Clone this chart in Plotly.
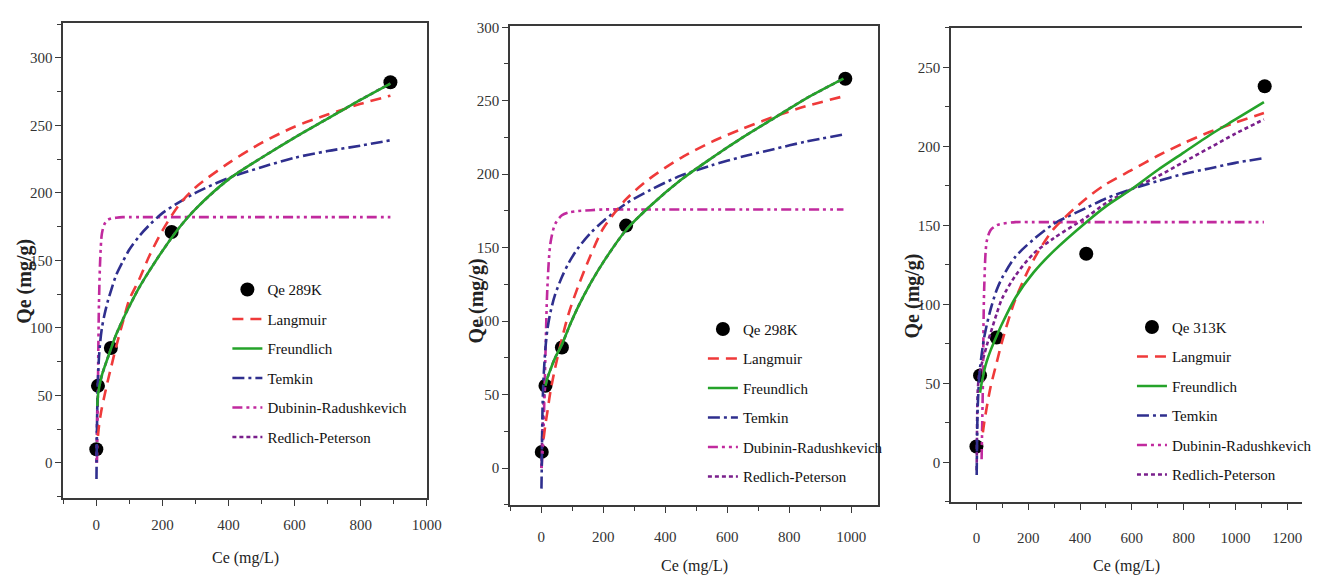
import plotly.graph_objects as go

# ---------------- data ----------------
# Panel 1 : 289 K
pts1_c = [0, 5, 44, 228, 890]
pts1_q = [10, 57, 85, 171, 282]
c1 = [0.5, 1, 2, 3, 5, 8, 12, 17, 25, 35, 45, 60, 80, 100, 130, 160, 200, 250, 300, 400, 500, 600, 700, 800, 890]
lang1 = [None, None, None, None, 20, 27, 34, 41, 50, 61, 71, 86, 104, 121, 136, 153, 172, 191, 204, 222, 237, 249, 258, 266, 272]
freu1 = [None, None, None, 42, 50, 55, 60, 65, 71, 78, 85, 95, 106, 116, 130, 142, 157, 174, 188, 210, 226, 241, 255, 269, 281]
temk1 = [-12, 2, 25, 42, 62, 78, 90, 100, 110, 120, 128, 139, 149, 158, 168, 176, 185, 193, 200, 211, 219, 226, 231, 235, 239]
dr1 = [None, None, 0, 15, 60, 118, 152, 170, 177, 180, 181, 181.6, 182, 182, 182, 182, 182, 182, 182, 182, 182, 182, 182, 182, 182]
rp1 = [0, 12, 28, 40, 50, 55, 60, 65, 71, 78, 85, 95, 106, 116, 130, 142, 157, 174, 188, 210, 226, 241, 255, 269, 281]

# Panel 2 : 298 K
pts2_c = [2, 14, 67, 274, 981]
pts2_q = [11, 56, 82, 165, 265]
c2 = [1, 2, 3, 5, 8, 14, 20, 30, 45, 67, 90, 120, 160, 200, 274, 350, 450, 550, 650, 750, 850, 975]
lang2 = [None, None, None, None, 20, 30, 38, 52, 68, 88, 106, 124, 145, 163, 183, 197, 211, 222, 231, 239, 246, 253]
freu2 = [None, None, None, None, None, 56, 61, 67, 75, 84, 96, 110, 126, 140, 162, 178, 196, 211, 225, 238, 251, 265]
temk2 = [-14, 0, 20, 45, 62, 82, 94, 106, 118, 130, 140, 150, 160, 168, 180, 189, 199, 206, 212, 217, 222, 227]
dr2 = [0, 2, 5, 12, 28, 78, 122, 153, 166, 172, 174, 175, 175.5, 176, 176, 176, 176, 176, 176, 176, 176, 176]
rp2 = [0, 10, 18, 30, 44, 56, 61, 67, 75, 84, 96, 110, 126, 140, 162, 178, 196, 211, 225, 238, 251, 265]

# Panel 3 : 313 K
pts3_c = [0, 14, 78, 424, 1113]
pts3_q = [10, 55, 79, 132, 238]
c3 = [1, 3, 5, 10, 14, 20, 25, 30, 40, 55, 78, 100, 150, 220, 300, 424, 500, 600, 700, 800, 900, 1000, 1110]
lang3 = [None, None, None, None, None, None, 19, 25, 35, 48, 63, 77, 103, 128, 148, 167, 176, 185, 194, 202, 209, 215, 221]
freu3 = [None, None, None, None, 44, 50, 54, 58, 64, 71, 80, 88, 104, 120, 134, 152, 162, 173, 185, 196, 207, 217, 228]
temk3 = [-8, 20, 35, 52, 60, 68, 74, 79, 87, 97, 109, 117, 130, 141, 151, 161, 167, 173, 178, 182.5, 186, 189.5, 192.5]
dr3 = [None, None, None, None, None, 2, 50, 110, 140, 147, 150, 151, 152, 152, 152, 152, 152, 152, 152, 152, 152, 152, 152]
rp3 = [-5, 30, 45, 55, 58, 62, 65, 68, 74, 82, 94, 104, 118, 132, 142, 155, 164, 173, 181, 190, 199, 208, 217]

series_names = ["Langmuir", "Freundlich", "Temkin", "Dubinin-Radushkevich", "Redlich-Peterson"]
point_names = ["Qe 289K", "Qe 298K", "Qe 313K"]
x_title = "Ce (mg/L)"
y_title = "Qe (mg/g)"

# ---------------- styling ----------------
W, H = 1317, 580
SERIF = "Liberation Serif, Times New Roman, serif"
styles = {
    "Langmuir": dict(color="#ef3a3a", dash="11px,7px", width=2.6),
    "Freundlich": dict(color="#25a32a", dash="solid", width=2.6),
    "Temkin": dict(color="#2f2f8e", dash="12px,4px,3px,4px", width=2.6),
    "Dubinin-Radushkevich": dict(color="#c12a9e", dash="10px,4px,3px,4px,3px,4px", width=2.6),
    "Redlich-Peterson": dict(color="#7a1f8c", dash="4px,3px", width=2.6),
}
rank = {"Langmuir": 2, "Freundlich": 3, "Temkin": 4, "Dubinin-Radushkevich": 5, "Redlich-Peterson": 6}
draw_order = ["Redlich-Peterson", "Dubinin-Radushkevich", "Temkin", "Langmuir", "Freundlich"]

panels = [
    dict(c=c1, pc=pts1_c, pq=pts1_q, data=dict(zip(series_names, [lang1, freu1, temk1, dr1, rp1])),
         xpx=(64, 432), ypx=(17, 497), xr=[-100, 1001], yr=[-26, 326], ymirror=True,
         leg=(230, 270), lstand=6, xt=(248, 558), yt=(24, 278)),
    dict(c=c2, pc=pts2_c, pq=pts2_q, data=dict(zip(series_names, [lang2, freu2, temk2, dr2, rp2])),
         xpx=(516, 888), ypx=(20, 504), xr=[-100, 1086], yr=[-25, 301], ymirror=True,
         leg=(711, 310), lstand=11, xt=(702, 566), yt=(482, 298)),
    dict(c=c3, pc=pts3_c, pq=pts3_q, data=dict(zip(series_names, [lang3, freu3, temk3, dr3, rp3])),
         xpx=(962, 1317), ypx=(22, 501), xr=[-98, 1257], yr=[-25, 275], ymirror=False,
         leg=(1145, 308), lstand=15, xt=(1139, 566), yt=(923, 293)),
]

fig = go.Figure()
layout = dict(
    width=W, height=H, margin=dict(l=0, r=0, t=0, b=0),
    paper_bgcolor="white", plot_bgcolor="white", showlegend=True,
)
annotations = []

axcol = "#3a3a3a"
for i, p in enumerate(panels):
    n = "" if i == 0 else str(i + 1)
    xa, ya = "x" + n, "y" + n
    lg = "legend" + n
    fig.add_trace(go.Scatter(
        x=p["pc"], y=p["pq"], mode="markers", name=point_names[i],
        marker=dict(color="black", size=14), xaxis=xa, yaxis=ya,
        legend=lg, legendgroup=f"p{i}pts", legendrank=1))
    for s in draw_order:
        st = styles[s]
        fig.add_trace(go.Scatter(
            x=p["c"], y=p["data"][s], mode="lines", name=s,
            line=dict(color=st["color"], dash=st["dash"], width=st["width"], shape="spline", smoothing=0.8),
            xaxis=xa, yaxis=ya, legend=lg, legendgroup=f"p{i}{s}", legendrank=rank[s]))

    common = dict(showline=True, linecolor=axcol, linewidth=1.6, ticks="outside", ticklen=6,
                  tickwidth=1.4, tickcolor=axcol, showgrid=False, zeroline=False,
                  tickfont=dict(family=SERIF, size=15, color="#333"))
    layout["xaxis" + n] = dict(
        common, domain=[p["xpx"][0] / W, p["xpx"][1] / W], range=p["xr"], mirror=True,
        anchor=ya, tickmode="linear", tick0=0, dtick=200, ticklabelstandoff=p["lstand"],
        minor=dict(ticks="outside", ticklen=4, tickwidth=1.2, tickcolor=axcol, dtick=100, tick0=0))
    layout["yaxis" + n] = dict(
        common, domain=[1 - p["ypx"][1] / H, 1 - p["ypx"][0] / H], range=p["yr"], mirror=p["ymirror"],
        anchor=xa, tickmode="linear", tick0=0, dtick=50,
        minor=dict(ticks="outside", ticklen=4, tickwidth=1.2, tickcolor=axcol, dtick=25, tick0=0))
    layout[lg] = dict(
        x=p["leg"][0] / W, y=1 - p["leg"][1] / H, xanchor="left", yanchor="top",
        bgcolor="rgba(0,0,0,0)", borderwidth=0, tracegroupgap=7,
        font=dict(family=SERIF, size=15, color="#111"))
    annotations.append(dict(
        text=x_title, xref="paper", yref="paper", x=p["xt"][0] / W, y=1 - p["xt"][1] / H,
        xanchor="center", yanchor="middle", showarrow=False,
        font=dict(family=SERIF, size=16, color="#222")))
    annotations.append(dict(
        text="<b>" + y_title + "</b>", xref="paper", yref="paper", x=p["yt"][0] / W, y=1 - p["yt"][1] / H,
        xanchor="center", yanchor="middle", showarrow=False, textangle=-90,
        font=dict(family=SERIF, size=20, color="#222")))

layout["annotations"] = annotations
fig.update_layout(**layout)
fig.write_html("out.html")
